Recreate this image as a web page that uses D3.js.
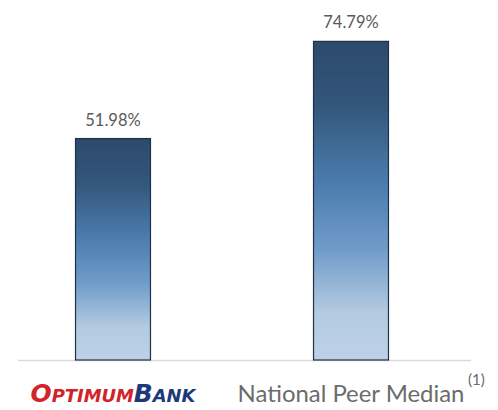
<!DOCTYPE html>
<html><head><meta charset="utf-8">
<script src="https://cdn.jsdelivr.net/npm/d3@7"></script>
<style>html,body{margin:0;padding:0;background:#fff;}svg{display:block;}</style>
</head><body>
<svg id="chart" width="498" height="410"></svg>
<script>
const categories = ["OptimumBank", "National Peer Median"];
const values = [51.98, 74.79];
const valueLabels = ["51.98%", "74.79%"];
const footnote = "(1)";

const svg = d3.select("#chart");
const W = 498, H = 410, baseY = 360;

const x = d3.scaleBand().domain(categories).range([-6, 470])
  .paddingInner(0.685).paddingOuter(0.3425);
const y = d3.scaleLinear().domain([0, 84.5]).range([baseY, 0]);

const defs = svg.append("defs");
const grad = defs.append("linearGradient").attr("id","barGrad")
  .attr("x1",0).attr("y1",0).attr("x2",0).attr("y2",1);
[[0,"#2d4a6b"],[0.2,"#33567b"],[0.45,"#4c7dae"],[0.65,"#6f9bc8"],[0.85,"#b3cae1"],[1,"#bdd2e8"]]
  .forEach(([o,c]) => grad.append("stop").attr("offset",o).attr("stop-color",c));

// axis line
svg.append("line").attr("x1",18).attr("x2",471).attr("y1",baseY+0.5).attr("y2",baseY+0.5)
  .attr("stroke","#d9d9d9").attr("stroke-width",1.3);

svg.selectAll("rect.bar").data(categories).join("rect").attr("class","bar")
  .attr("x", d => x(d)).attr("width", x.bandwidth())
  .attr("y", (d,i) => y(values[i])).attr("height", (d,i) => baseY - y(values[i]))
  .attr("fill","url(#barGrad)").attr("stroke","#1f3146").attr("stroke-width",1.2);

svg.selectAll("text.val").data(categories).join("text").attr("class","val")
  .attr("x", d => x(d) + x.bandwidth()/2)
  .attr("y", (d,i) => y(values[i]) - 13)
  .attr("text-anchor","middle")
  .attr("font-family","Lato, 'Open Sans', sans-serif").attr("font-size",16.5)
  .attr("fill","#5a5a5a")
  .text((d,i) => valueLabels[i]);

// category 1: logo-styled label
const logo = svg.append("text")
  .attr("x", x(categories[0]) + x.bandwidth()/2).attr("y", 402)
  .attr("text-anchor","middle")
  .attr("font-family","'DejaVu Sans', sans-serif")
  .attr("font-weight","bold").attr("font-style","italic")
  .attr("font-size",25).style("font-variant","small-caps")
  .attr("textLength",165).attr("lengthAdjust","spacingAndGlyphs");
logo.append("tspan").attr("fill","#d2232a").text(categories[0].slice(0,7));
logo.append("tspan").attr("fill","#1d3a78").text(categories[0].slice(7));

// category 2 label
const lab = svg.append("text")
  .attr("x", x(categories[1]) + x.bandwidth()/2).attr("y", 402)
  .attr("text-anchor","middle")
  .attr("font-family","Lato, 'Open Sans', sans-serif").attr("font-size",26)
  .attr("fill","#6b6b6b").text(categories[1]);
const len = lab.node().getComputedTextLength();
lab.attr("font-size", 26 * 227 / len);

svg.append("text").attr("x",468).attr("y",385)
  .attr("font-family","Lato, 'Open Sans', sans-serif").attr("font-size",15)
  .attr("fill","#6b6b6b").text(footnote);
</script>
</body></html>
